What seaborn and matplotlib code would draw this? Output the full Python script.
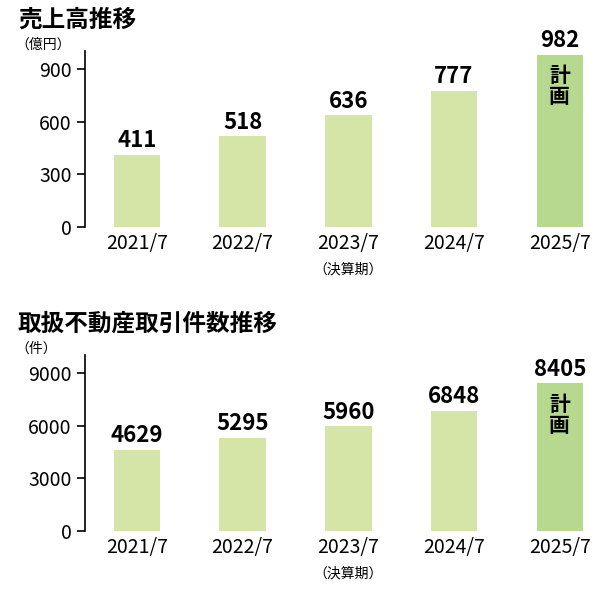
import matplotlib.pyplot as plt
import seaborn as sns
import pandas as pd

plt.rcParams['font.family'] = 'Noto Sans CJK JP'

periods = ['2021/7', '2022/7', '2023/7', '2024/7', '2025/7']
sales = [411, 518, 636, 777, 982]
deals = [4629, 5295, 5960, 6848, 8405]
sales_ticks = [0, 300, 600, 900]
deal_ticks = [0, 3000, 6000, 9000]

actual_color = '#d5e5a8'
plan_color = '#b6d98f'


def draw_panel(ax, values, ticks, ymax, title, unit):
    df = pd.DataFrame({'period': periods, 'value': values,
                       'kind': ['actual'] * 4 + ['plan']})
    sns.barplot(data=df, x='period', y='value', hue='kind', dodge=False,
                palette={'actual': actual_color, 'plan': plan_color},
                saturation=1, width=0.44, legend=False, ax=ax)
    ax.set_xlim(-0.49, 4.38)
    ax.set_ylim(0, ymax)
    ax.set_yticks(ticks)
    ax.set_xlabel('')
    ax.set_ylabel('')
    for s in ['top', 'right', 'bottom']:
        ax.spines[s].set_visible(False)
    ax.spines['left'].set_linewidth(1.2)
    ax.tick_params(axis='y', labelsize=14, length=6, width=1.2)
    ax.tick_params(axis='x', labelsize=14, length=0, pad=4)
    for i, v in enumerate(values):
        ax.text(i, v + ymax * 0.015, str(v), ha='center', va='bottom',
                fontsize=16, fontweight='bold')
    ax.text(4, values[4] - ymax * 0.06, '計\n画', ha='center', va='top',
            fontsize=15, fontweight='bold', linespacing=1.0)
    ax.text(2, -ymax * 0.24, '（決算期）', ha='center', va='center', fontsize=10)
    ax.text(-0.13, 1.18, title, transform=ax.transAxes, fontsize=17,
            fontweight='bold', va='center')
    ax.text(-0.135, 1.04, unit, transform=ax.transAxes, fontsize=10, va='center')


fig = plt.figure(figsize=(6.16, 5.98), dpi=100)
ax1 = fig.add_axes([0.138, 0.620, 0.836, 0.294])
ax2 = fig.add_axes([0.138, 0.112, 0.836, 0.294])
draw_panel(ax1, sales, sales_ticks, 1000, '売上高推移', '（億円）')
draw_panel(ax2, deals, deal_ticks, 10000, '取扱不動産取引件数推移', '（件）')
fig.savefig('out.png', dpi=100)
